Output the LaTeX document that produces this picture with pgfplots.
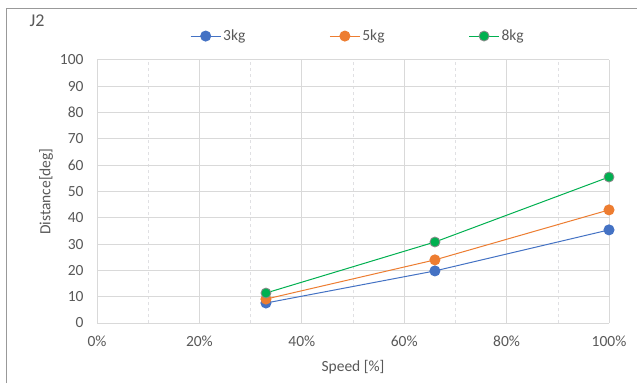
\documentclass[border=0pt]{standalone}
\usepackage{pgfplots}
\pgfplotsset{compat=1.18}
\usepackage{fontspec}
\setmainfont{Carlito}
\definecolor{cBlue}{HTML}{4472C4}
\definecolor{cOrange}{HTML}{ED7D31}
\definecolor{cGreen}{HTML}{00B050}
\definecolor{txt}{HTML}{595959}
\definecolor{grd}{HTML}{D9D9D9}
\begin{document}
\begin{tikzpicture}[x=1pt,y=1pt]
\path[use as bounding box,fill=white] (0,0) rectangle (637,383);
\draw[color=black!40,line width=1pt] (6,0) -- (6,374) -- (637,374);
\node[anchor=west,text=txt,font=\fontsize{18}{20}\selectfont] at (26,362) {J2};
\begin{axis}[
  at={(97pt,60pt)}, anchor=south west,
  scale only axis, width=512pt, height=263pt,
  xmin=0, xmax=100, ymin=0, ymax=100,
  axis line style={draw=none},
  tick style={draw=none},
  xtick={0,20,...,100}, minor xtick={10,30,50,70,90},
  ytick={0,10,...,100},
  xticklabel={\pgfmathprintnumber{\tick}\%},
  /pgf/number format/assume math mode=true,
  ticklabel style={text=txt,font=\fontsize{15.5}{17}\selectfont},
  xticklabel style={yshift=-9pt},
  yticklabel style={xshift=-10pt},
  xmajorgrids, ymajorgrids, xminorgrids,
  major grid style={grd,line width=1pt},
  minor grid style={color=blue!8!black!12,dashed,line width=0.6pt},
  xlabel={Speed [\%]}, ylabel={Distance[deg]},
  label style={text=txt,font=\fontsize{15.5}{17}\selectfont},
  xlabel style={yshift=-7pt},
  ylabel style={yshift=0pt},
  legend columns=3,
  legend style={at={(0.1816,1.091)},anchor=west,draw=none,fill=none,inner sep=0pt,
    font=\fontsize{15.5}{17}\selectfont,text=txt,
    /tikz/every even column/.append style={column sep=82pt}},
  legend image code/.code={\draw[#1,mark repeat=2,mark phase=2] plot coordinates {(0pt,0pt)(15pt,0pt)(30pt,0pt)};},
  every axis plot/.append style={line width=1pt, mark=*, mark size=5pt},
]
\addplot[cBlue, mark options={fill=cBlue,draw=cBlue}] coordinates {(33,7.6) (66,19.8) (100,35.4)};
\addplot[cOrange, mark options={fill=cOrange,draw=cOrange}] coordinates {(33,9.1) (66,24.0) (100,43.0)};
\addplot[cGreen, mark options={fill=cGreen,draw=black!45,line width=0.8pt}] coordinates {(33,11.4) (66,30.8) (100,55.5)};
\legend{3kg,5kg,8kg}
\end{axis}
\end{tikzpicture}
\end{document}
